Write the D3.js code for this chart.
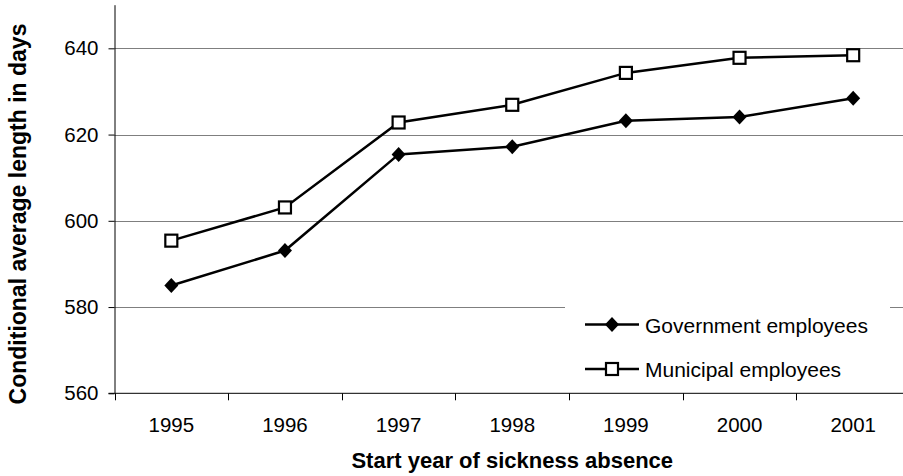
<!DOCTYPE html>
<html>
<head>
<meta charset="utf-8">
<script src="https://cdn.jsdelivr.net/npm/d3@7"></script>
<style>
  html, body { margin: 0; padding: 0; background: #fff; }
  svg { display: block; font-family: "Liberation Sans", Arial, sans-serif; }
</style>
</head>
<body>
<svg id="chart" width="903" height="476"></svg>
<script>
// Conditional average length of sickness absence, by start year
const years = ["1995", "1996", "1997", "1998", "1999", "2000", "2001"];
const governmentValues = [585.0, 593.1, 615.4, 617.2, 623.2, 624.1, 628.4];
const municipalValues = [595.4, 603.1, 622.8, 626.9, 634.3, 637.8, 638.4];
const yTicks = [560, 580, 600, 620, 640];
const seriesNames = ["Government employees", "Municipal employees"];

const svg = d3.select("#chart");
const plot = { left: 114.5, right: 910, top: 5.2, bottom: 393.3 };

const x = d3.scaleBand().domain(years).range([plot.left, plot.right]);
const y = d3.scaleLinear().domain([560, 650]).range([plot.bottom, plot.top]);

// horizontal gridlines
svg.append("g").selectAll("line")
  .data(yTicks.filter(v => v > 560))
  .join("line")
  .attr("x1", plot.left).attr("x2", plot.right)
  .attr("y1", d => Math.round(y(d)) + 0.5).attr("y2", d => Math.round(y(d)) + 0.5)
  .attr("stroke", "#7f7f7f").attr("stroke-width", 1);

// y axis
const yAxis = svg.append("g")
  .attr("transform", `translate(${plot.left},0)`)
  .call(d3.axisLeft(y).tickValues(yTicks).tickSize(6).tickSizeOuter(0).tickPadding(10));
yAxis.select(".domain").attr("stroke", "#000").attr("d", `M0.5,${plot.top}V${plot.bottom}`);
yAxis.selectAll(".tick line").attr("stroke", "#000");
yAxis.selectAll(".tick text")
  .attr("font-size", "20.5px").attr("fill", "#000")
  .attr("font-family", "Liberation Sans, Arial, sans-serif");

// x axis: labels at band centers, ticks at band edges
const xAxis = svg.append("g")
  .attr("transform", `translate(0,${plot.bottom})`)
  .call(d3.axisBottom(x).tickSize(0).tickPadding(24));
xAxis.select(".domain").remove();
xAxis.selectAll(".tick text")
  .attr("font-size", "20.5px").attr("fill", "#000")
  .attr("font-family", "Liberation Sans, Arial, sans-serif");
svg.append("line")
  .attr("x1", plot.left - 6).attr("x2", plot.right)
  .attr("y1", plot.bottom).attr("y2", plot.bottom)
  .attr("stroke", "#000").attr("stroke-width", 1);
svg.append("g").selectAll("line")
  .data(years.concat(["end"]))
  .join("line")
  .attr("x1", (d, i) => Math.round(plot.left + i * x.bandwidth()) + 0.5)
  .attr("x2", (d, i) => Math.round(plot.left + i * x.bandwidth()) + 0.5)
  .attr("y1", plot.bottom).attr("y2", plot.bottom + 7)
  .attr("stroke", "#000").attr("stroke-width", 1);

// axis titles
svg.append("text")
  .attr("x", (plot.left + plot.right) / 2).attr("y", 467.5)
  .attr("text-anchor", "middle")
  .attr("font-size", "22px").attr("font-weight", "bold")
  .text("Start year of sickness absence");
svg.append("text")
  .attr("transform", `translate(25.5,214) rotate(-90)`)
  .attr("text-anchor", "middle")
  .attr("font-size", "23px").attr("font-weight", "bold")
  .text("Conditional average length in days");

// series
const cx = d => x(d) + x.bandwidth() / 2;
const line = d3.line().x(d => cx(d.year)).y(d => y(d.value));
const govData = years.map((yr, i) => ({ year: yr, value: governmentValues[i] }));
const munData = years.map((yr, i) => ({ year: yr, value: municipalValues[i] }));

function drawDiamond(g, px, py) {
  g.append("path")
    .attr("d", `M${px},${py - 7.5}L${px + 7},${py}L${px},${py + 7.5}L${px - 7},${py}Z`)
    .attr("fill", "#000");
}
function drawSquare(g, px, py) {
  g.append("rect")
    .attr("x", px - 6).attr("y", py - 6).attr("width", 12).attr("height", 12)
    .attr("fill", "#fff").attr("stroke", "#000").attr("stroke-width", 2.2);
}

const lines = svg.append("g");
lines.append("path").datum(govData).attr("d", line)
  .attr("fill", "none").attr("stroke", "#000").attr("stroke-width", 2.5);
lines.append("path").datum(munData).attr("d", line)
  .attr("fill", "none").attr("stroke", "#000").attr("stroke-width", 2.5);
govData.forEach(d => drawDiamond(lines, cx(d.year), y(d.value)));
munData.forEach(d => drawSquare(lines, cx(d.year), y(d.value)));

// legend
const legend = svg.append("g");
legend.append("rect")
  .attr("x", 565).attr("y", 300).attr("width", 325).attr("height", 92)
  .attr("fill", "#fff");
const rows = [324.5, 369];
rows.forEach((ry, i) => {
  legend.append("line")
    .attr("x1", 585).attr("x2", 639).attr("y1", ry).attr("y2", ry)
    .attr("stroke", "#000").attr("stroke-width", 2.5);
  if (i === 0) drawDiamond(legend, 612, ry); else drawSquare(legend, 612, ry);
  legend.append("text")
    .attr("x", 645).attr("y", ry + 8)
    .attr("font-size", "21px").attr("fill", "#000")
    .text(seriesNames[i]);
});
</script>
</body>
</html>
